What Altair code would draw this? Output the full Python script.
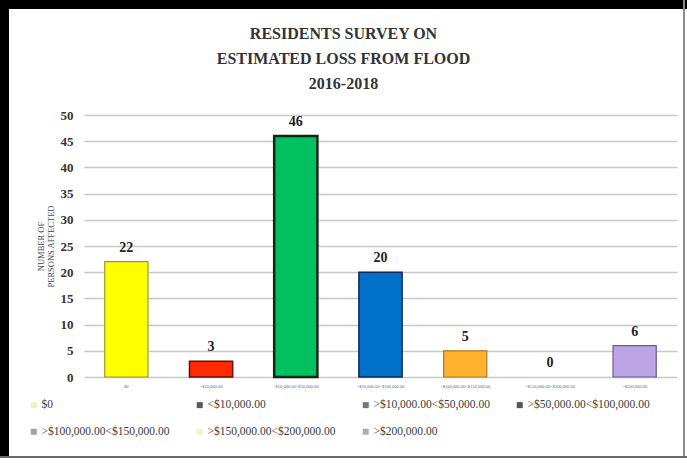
import altair as alt
import pandas as pd

# ---- data ----
categories = ["$0", "<$10,000.00", ">$10,000.00<$50,000.00", ">$50,000.00<$100,000.00",
              ">$100,000.00<$150,000.00", ">$150,000.00<$200,000.00", ">$200,000.00"]
persons = [22, 3, 46, 20, 5, 0, 6]

# ---- styles ----
bar_fill = ["#ffff00", "#ff2a00", "#00c060", "#0070c8", "#ffb22e", "#ffffff", "#bca4e6"]
bar_stroke = ["#9a9a30", "#6b0a00", "#0a2a14", "#0a2a5a", "#b07a20", "#ffffff", "#6a5a90"]
bar_stroke_w = [1.2, 1.5, 2.5, 1.5, 1.2, 0, 1.2]
legend_sym = ["#e6eea0", "#111111", "#3a3a3a", "#0a0a1a", "#7a7a7a", "#f0f0a8", "#8a8a8a"]

df = pd.DataFrame({
    "cat": categories,
    "n": persons,
    "fill": bar_fill,
    "stroke": bar_stroke,
    "sw": bar_stroke_w,
})

SERIF = "Liberation Serif"
W, H = 593, 262

x_enc = alt.X("cat:N", sort=categories,
              scale=alt.Scale(paddingInner=0.49, paddingOuter=0.245),
              axis=alt.Axis(title=None, labelAngle=0, labelFontSize=4.5, labelColor="#4a6ab0",
                            labelFont=SERIF, domain=False, ticks=False, labelPadding=6,
                            labelLimit=200))
y_enc = alt.Y("n:Q", scale=alt.Scale(domain=[0, 50]),
              axis=alt.Axis(values=list(range(0, 51, 5)), title=["NUMBER OF", "PERSONS AFFECTED"],
                            titleFont=SERIF, titleFontSize=8.5, titleFontWeight="normal",
                            titleColor="#444444", titleLineHeight=10, titlePadding=5,
                            labelFont=SERIF, labelFontSize=13, labelFontWeight="bold",
                            labelColor="#333333", labelPadding=11, ticks=False, domain=False,
                            labelOverlap=False,
                            grid=True, gridColor="#c8c8c8", gridWidth=1.5))

base = alt.Chart(df)

bars = base.mark_bar().encode(
    x=x_enc, y=y_enc,
    fill=alt.Fill("fill:N", scale=None),
    stroke=alt.Stroke("stroke:N", scale=None),
    strokeWidth=alt.StrokeWidth("sw:Q", scale=None),
)

labels = base.mark_text(font=SERIF, fontSize=14, fontWeight="bold", color="#222222",
                        baseline="bottom", dy=-7).encode(
    x=x_enc, y=y_enc, text="n:Q")

legend_layer = base.mark_point(shape="square", filled=True, size=0).encode(
    x=x_enc, y=y_enc,
    color=alt.Color("cat:N", sort=categories,
                    scale=alt.Scale(domain=categories, range=legend_sym),
                    legend=alt.Legend(orient="none", legendX=-56, legendY=284, columns=4,
                                      direction="horizontal", title=None, symbolType="square",
                                      symbolSize=36, labelFont=SERIF, labelFontSize=11.5,
                                      labelColor="#3a3a3a", rowPadding=14, columnPadding=24,
                                      gridAlign="each", labelOffset=2, symbolStrokeWidth=0.5)),
)

def rule(x, x2, y, y2, color, w):
    return alt.Chart(df).mark_rule(color=color, strokeWidth=w).encode(
        x=alt.value(x), x2=alt.value(x2), y=alt.value(y), y2=alt.value(y2))

border = [
    rule(-79.5, -79.5, -115, 343, "#000000", 9),
    rule(-84, 603, -110.5, -110.5, "#000000", 9),
    rule(600, 600, -115, 343, "#8a8a8a", 2),
    rule(-84, 603, 342, 342, "#6a6a6a", 2),
]

chart = alt.layer(bars, labels, legend_layer, *border).properties(
    width=W, height=H,
    title=alt.TitleParams(
        text=["RESIDENTS SURVEY ON", "ESTIMATED LOSS FROM FLOOD", "2016-2018"],
        font=SERIF, fontSize=16, fontWeight="bold", color="#333333",
        lineHeight=25, anchor="middle", dx=-37, offset=0, dy=96),
    autosize=alt.AutoSizeParams(type="none"),
    padding={"left": 84, "top": 115, "right": 10, "bottom": 87},
    background="#ffffff",
).configure_view(stroke=None).configure_legend(labelFont=SERIF)

chart.save("out.html", embed_options={"renderer": "svg", "actions": False})
